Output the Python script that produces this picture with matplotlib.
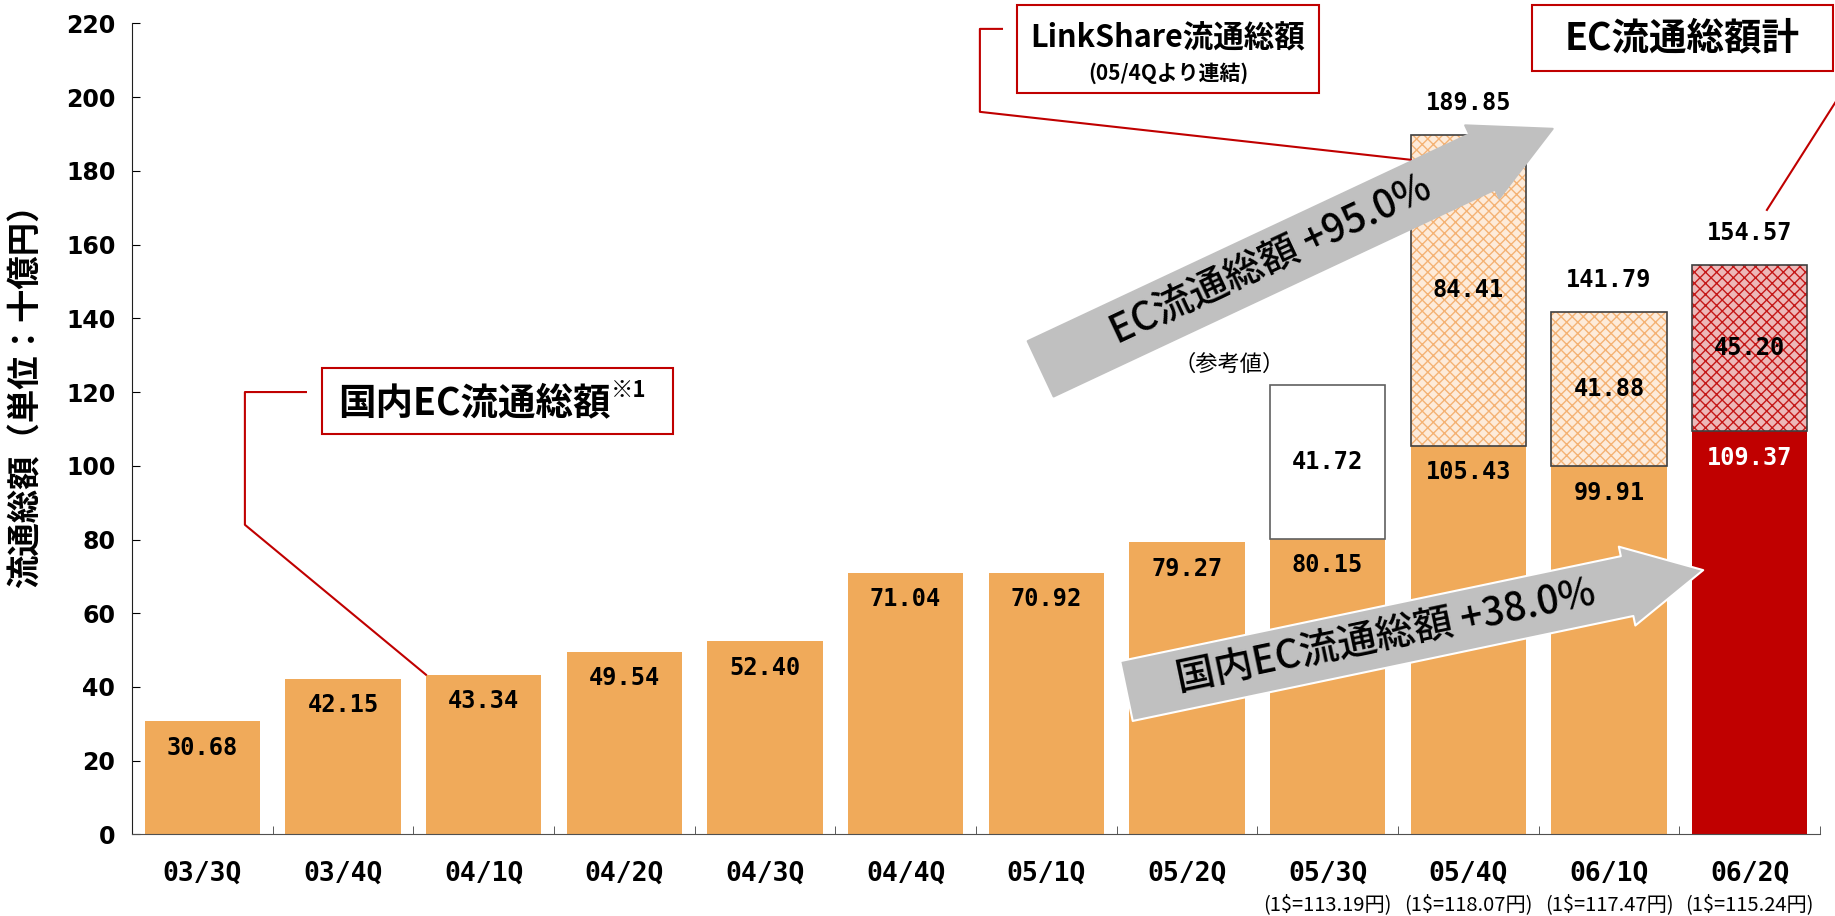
import numpy as np
import matplotlib
matplotlib.use('Agg')
import matplotlib.pyplot as plt
from matplotlib.patches import FancyArrowPatch, Rectangle

plt.rcParams['font.family'] = ['Noto Sans CJK JP', 'DejaVu Sans']
plt.rcParams['hatch.linewidth'] = 1.0

# -----------------------------------------------------------------------------

quarters = ['03/3Q', '03/4Q', '04/1Q', '04/2Q', '04/3Q', '04/4Q',
            '05/1Q', '05/2Q', '05/3Q', '05/4Q', '06/1Q', '06/2Q']
domestic = [30.68, 42.15, 43.34, 49.54, 52.40, 71.04,
            70.92, 79.27, 80.15, 105.43, 99.91, 109.37]
linkshare = [0, 0, 0, 0, 0, 0, 0, 0, 41.72, 84.41, 41.88, 45.20]
totals = [None] * 9 + [189.85, 141.79, 154.57]
fx_rates = [''] * 8 + ['(1$=113.19円)', '(1$=118.07円)', '(1$=117.47円)', '(1$=115.24円)']

ORANGE = '#F0AA5A'
RED = '#C00000'
NUMFONT = 'DejaVu Sans Mono'

# -----------------------------------------------------------------------------

fig = plt.figure(figsize=(18.35, 9.16), dpi=100)
ax = fig.add_axes([0.0719, 0.0890, 0.9199, 0.8855])

x = np.arange(len(quarters))
w = 0.82

dom_colors = [ORANGE] * 11 + [RED]
ax.bar(x, domestic, w, color=dom_colors, zorder=2)

for i in range(len(quarters)):
    if linkshare[i] == 0:
        continue
    if i == 8:
        ax.bar(i, linkshare[i], w, bottom=domestic[i], facecolor='white',
               edgecolor='#606060', lw=1.2, zorder=2)
    else:
        if i == 11:
            fc, hc = '#EDB8B8', '#C41818'
        else:
            fc, hc = '#FDEBDA', '#F4B274'
        ax.bar(i, linkshare[i], w, bottom=domestic[i], facecolor=fc,
               edgecolor=hc, hatch='xxx', lw=0, zorder=2)
        ax.bar(i, linkshare[i], w, bottom=domestic[i], fill=False,
               edgecolor='#404040', lw=1.2, zorder=2)

# value labels
for i in range(len(quarters)):
    ax.annotate(f'{domestic[i]:.2f}', (i, domestic[i]), xytext=(0, -19),
                textcoords='offset points', ha='center', va='center',
                family=NUMFONT, weight='bold', size=17,
                color='white' if i == 11 else 'black', zorder=6)
    if linkshare[i]:
        ax.text(i, domestic[i] + linkshare[i] / 2, f'{linkshare[i]:.2f}',
                ha='center', va='center', family=NUMFONT, weight='bold',
                size=17, zorder=6)
    if totals[i]:
        ax.annotate(f'{totals[i]:.2f}', (i, totals[i]), xytext=(0, 23),
                    textcoords='offset points', ha='center', va='center',
                    family=NUMFONT, weight='bold', size=17, zorder=6)
    if fx_rates[i]:
        ax.text(i, -0.087, fx_rates[i], transform=ax.get_xaxis_transform(),
                ha='center', va='center', size=14.5)

# -----------------------------------------------------------------------------
# axes

ax.set_xlim(-0.5, 11.5)
ax.set_ylim(0, 220)
ax.set_yticks(np.arange(0, 221, 20))
ax.set_xticks(x)
ax.set_xticklabels(quarters, family=NUMFONT, weight='bold', size=19)
ax.set_xticks(np.arange(-0.5, 12, 1), minor=True)
ax.tick_params(axis='x', which='major', length=0, pad=19)
ax.tick_params(axis='x', which='minor', direction='in', length=6, color='#404040')
ax.tick_params(axis='y', direction='in', length=6, pad=12)
for lbl in ax.get_yticklabels():
    lbl.set_family('DejaVu Sans')
    lbl.set_weight('bold')
    lbl.set_size(17)

for s in ['top', 'right']:
    ax.spines[s].set_visible(False)
ax.spines['left'].set_color('#202020')
ax.spines['bottom'].set_color('#505050')

fig.text(26 / 1835, 1 - 388 / 916, '流通総額（単位：十億円）', rotation=90,
         ha='center', va='center', size=24, weight='bold')

# -----------------------------------------------------------------------------
# callouts

def box(x0, x1, y0, y1):
    ax.add_patch(Rectangle((x0, y0), x1 - x0, y1 - y0, facecolor='white',
                           edgecolor=RED, lw=1.5, clip_on=False, zorder=7))

box(0.851, 3.346, 108.6, 126.5)
ax.text(2.905, 117.0, '国内EC流通総額', ha='right', va='center', size=27,
        weight='bold', zorder=8)
ax.text(2.905, 120.5, '※1', ha='left', va='center', size=16,
        weight='bold', zorder=8)
ax.plot([0.737, 0.303, 0.303, 2 - w / 2], [120.0, 120.0, 84.0, domestic[2]],
        color=RED, lw=1.5, zorder=3, clip_on=False)

box(5.791, 7.938, 201.1, 225.0)
ax.text(6.865, 216.0, 'LinkShare流通総額', ha='center', va='center', size=22,
        weight='bold', zorder=8)
ax.text(6.865, 206.5, '(05/4Qより連結)', ha='center', va='center', size=15,
        weight='bold', zorder=8)
ax.plot([5.685, 5.528, 5.528, 9 - w / 2], [218.5, 218.5, 196.0, 183.0],
        color=RED, lw=1.5, zorder=3, clip_on=False)

box(9.452, 11.592, 207.1, 225.0)
ax.text(10.52, 216.0, 'EC流通総額計', ha='center', va='center', size=27,
        weight='bold', zorder=8)
ax.plot([11.70, 11.123], [204.0, 169.4], color=RED, lw=1.5, zorder=3,
        clip_on=False)

ax.text(7.3, 127.4, '（参考値）', ha='center', va='center', size=16, zorder=6)

# growth arrows

def growth_arrow(p0, p1, label, edge):
    arr = FancyArrowPatch(p0, p1, arrowstyle='simple,tail_width=4.4,head_width=5.8,head_length=5.6',
                          mutation_scale=10, shrinkA=0, shrinkB=0,
                          facecolor='#C0C0C0', edgecolor=edge, lw=1.5,
                          zorder=4, clip_on=False)
    ax.add_patch(arr)
    d0 = ax.transData.transform(p0)
    d1 = ax.transData.transform(p1)
    ang = np.degrees(np.arctan2(d1[1] - d0[1], d1[0] - d0[0]))
    t = 0.45
    tx = p0[0] + t * (p1[0] - p0[0])
    ty = p0[1] + t * (p1[1] - p0[1])
    ax.text(tx, ty, label, rotation=ang, rotation_mode='anchor',
            ha='center', va='center', size=28, weight='medium', zorder=5)

growth_arrow((5.96, 126.3), (9.60, 191.4), 'EC流通総額 +95.0%', '#C0C0C0')
growth_arrow((6.57, 38.9), (10.67, 71.7), '国内EC流通総額 +38.0%', 'white')

fig.savefig('out.png', dpi=100)
